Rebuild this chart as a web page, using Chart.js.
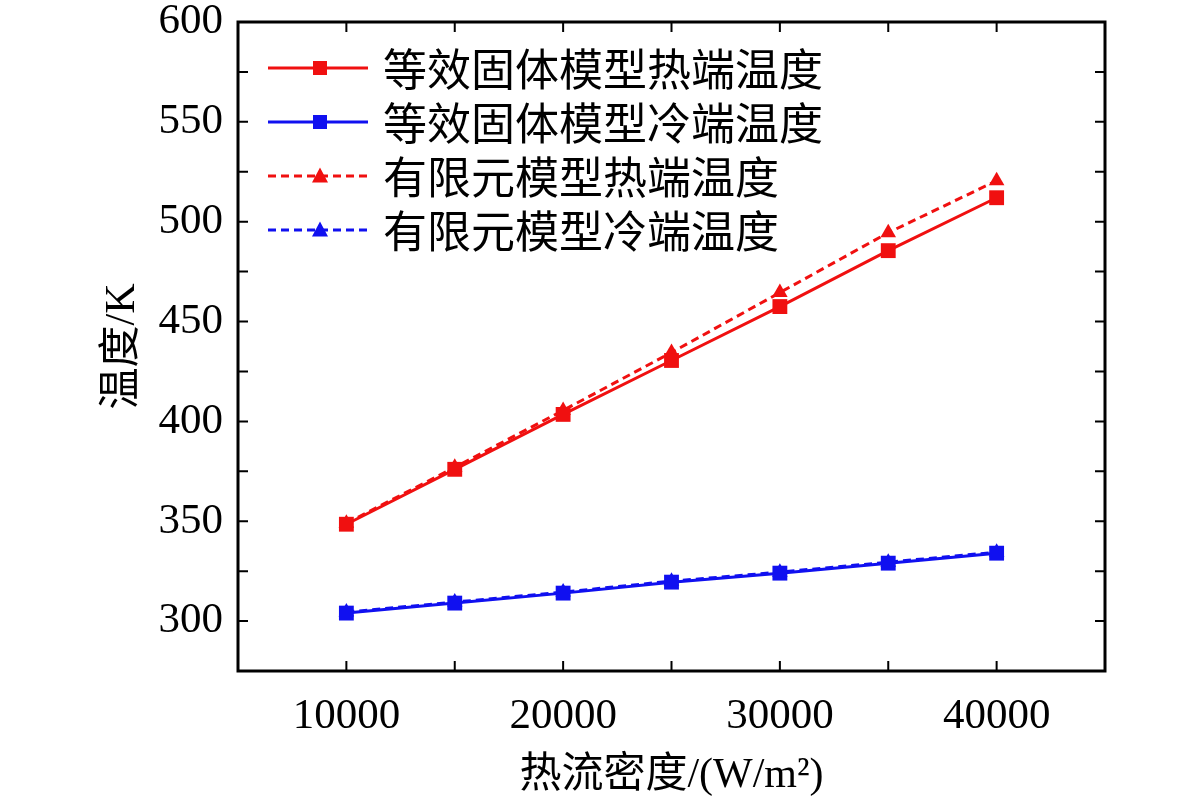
<!DOCTYPE html>
<html>
<head>
<meta charset="utf-8">
<script src="https://cdn.jsdelivr.net/npm/chart.js@4/dist/chart.umd.min.js"></script>
<style>
html,body{margin:0;padding:0;background:#fff;}
#wrap{width:1181px;height:804px;position:relative;}
</style>
</head>
<body>
<div id="wrap"><canvas id="c" width="1181" height="804"></canvas></div>
<script>
// ---- data ----
const heatFlux = [10000, 15000, 20000, 25000, 30000, 35000, 40000];
const eqSolidHot = [348.5, 376, 403.5, 430.5, 457.5, 485.5, 512];
const eqSolidCold = [304, 309, 314, 319.5, 324, 329, 334];
const feHot = [349, 377, 405.5, 434.5, 464.5, 494.5, 520.5];
const feCold = [304.5, 309.5, 314.5, 320, 324.5, 329.5, 334.5];
const seriesLabels = ['等效固体模型热端温度', '等效固体模型冷端温度', '有限元模型热端温度', '有限元模型冷端温度'];
const xLabelValues = [10000, 20000, 30000, 40000];
const yLabelValues = [300, 350, 400, 450, 500, 550, 600];
const xTitle = '热流密度/(W/m²)';
const yTitle = '温度/K';

const RED = '#f01010';
const BLUE = '#1010f0';
const latin = "'Liberation Serif', 'Noto Sans CJK SC', serif";

function pts(arr){ return heatFlux.map((x,i)=>({x:x, y:arr[i]})); }

function ds(label, arr, color, dashed, shape){
  return {
    label: label,
    data: pts(arr),
    borderColor: color,
    backgroundColor: color,
    borderWidth: 3,
    borderDash: dashed ? [8,5] : [],
    pointStyle: shape,
    pointRadius: shape === 'rect' ? 10.5 : 9,
    pointBorderWidth: 0,
    pointBackgroundColor: color,
    tension: 0,
    fill: false
  };
}

const frameTicks = {
  id: 'frameTicks',
  afterDatasetsDraw(chart){
    const {ctx, chartArea: a, scales: {x, y}} = chart;
    ctx.save();
    ctx.strokeStyle = '#000';
    ctx.lineWidth = 3;
    ctx.strokeRect(a.left, a.top, a.right - a.left, a.bottom - a.top);
    ctx.lineWidth = 2;
    const tl = 10;
    for (let v = 5000; v <= 45000; v += 5000) {
      const px = x.getPixelForValue(v);
      ctx.beginPath();
      ctx.moveTo(px, a.bottom); ctx.lineTo(px, a.bottom - tl);
      ctx.moveTo(px, a.top); ctx.lineTo(px, a.top + tl);
      ctx.stroke();
    }
    for (let v = 275; v <= 600; v += 25) {
      const py = y.getPixelForValue(v);
      ctx.beginPath();
      ctx.moveTo(a.left, py); ctx.lineTo(a.left + tl, py);
      ctx.moveTo(a.right, py); ctx.lineTo(a.right - tl, py);
      ctx.stroke();
    }
    // legend
    const rowY = [68, 122, 176, 230];
    chart.data.datasets.forEach((d, i) => {
      const yy = rowY[i];
      ctx.strokeStyle = d.borderColor;
      ctx.lineWidth = 3;
      ctx.setLineDash(d.borderDash);
      ctx.beginPath(); ctx.moveTo(268, yy); ctx.lineTo(368, yy); ctx.stroke();
      ctx.setLineDash([]);
      ctx.fillStyle = d.backgroundColor;
      if (d.pointStyle === 'rect') {
        ctx.fillRect(320 - 7, yy - 7, 14, 14);
      } else {
        ctx.beginPath();
        ctx.moveTo(320, yy - 8.5); ctx.lineTo(328, yy + 6.5); ctx.lineTo(312, yy + 6.5);
        ctx.closePath(); ctx.fill();
      }
      ctx.fillStyle = '#000';
      ctx.font = "44px 'Noto Sans CJK SC', sans-serif";
      ctx.textBaseline = 'middle';
      ctx.textAlign = 'left';
      ctx.fillText(d.label, 383, yy + 1);
    });
    ctx.restore();
  }
};

new Chart(document.getElementById('c'), {
  type: 'line',
  data: {
    datasets: [
      ds(seriesLabels[0], eqSolidHot, RED, false, 'rect'),
      ds(seriesLabels[1], eqSolidCold, BLUE, false, 'rect'),
      ds(seriesLabels[2], feHot, RED, true, 'triangle'),
      ds(seriesLabels[3], feCold, BLUE, true, 'triangle')
    ]
  },
  options: {
    responsive: false,
    animation: false,
    devicePixelRatio: 1,
    layout: { padding: { top: 22, right: 76, left: 0, bottom: 0 } },
    plugins: { legend: { display: false }, tooltip: { enabled: false } },
    scales: {
      x: {
        type: 'linear',
        min: 5000, max: 45000,
        afterFit(s){ s.height = 133; s.paddingLeft = 0; s.paddingRight = 0; },
        afterBuildTicks(s){ s.ticks = xLabelValues.map(v => ({value: v})); },
        grid: { display: false },
        border: { display: false },
        ticks: { color: '#000', padding: 12, maxRotation: 0, autoSkip: false,
                 font: { family: latin, size: 43 }, callback: v => String(v) },
        title: { display: true, text: xTitle, color: '#000',
                 font: { family: latin, size: 42 }, padding: { top: 0, bottom: 3 } }
      },
      y: {
        type: 'linear',
        min: 275, max: 600,
        afterFit(s){ s.width = 238; s.paddingTop = 0; s.paddingBottom = 0; },
        afterBuildTicks(s){ s.ticks = yLabelValues.map(v => ({value: v})); },
        grid: { display: false },
        border: { display: false },
        ticks: { color: '#000', padding: 7, autoSkip: false,
                 font: { family: latin, size: 43 }, callback: v => String(v) },
        title: { display: true, text: yTitle, color: '#000',
                 font: { family: latin, size: 42 }, padding: { top: 98, bottom: 0 } }
      }
    }
  },
  plugins: [frameTicks]
});
</script>
</body>
</html>
